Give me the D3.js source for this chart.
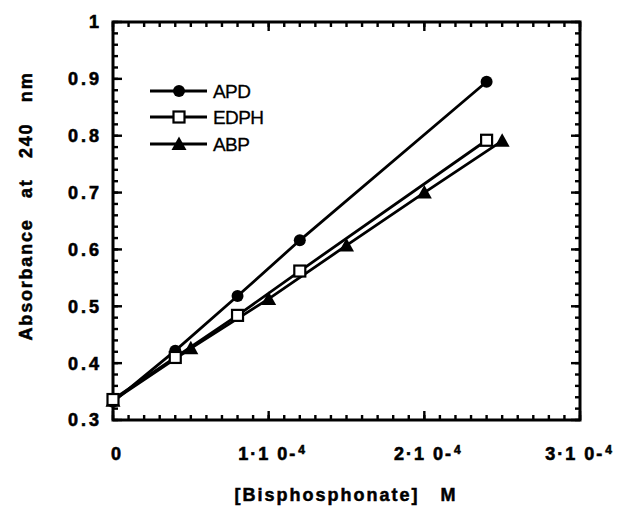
<!DOCTYPE html>
<html><head><meta charset="utf-8">
<script src="https://cdn.jsdelivr.net/npm/d3@7"></script>
<style>
html,body{margin:0;padding:0;background:#fff;}
svg{display:block;font-family:"Liberation Sans",Arial,sans-serif;}
</style></head>
<body><svg id="c" width="618" height="506"></svg>
<script>
// ---- data ----
const seriesNames = ["APD", "EDPH", "ABP"];
const xAPD = [0, 4e-5, 8e-5, 1.2e-4, 2.4e-4];
const yAPD = [0.332, 0.422, 0.518, 0.616, 0.895];
const xEDPH = [0, 4e-5, 8e-5, 1.2e-4, 2.4e-4];
const yEDPH = [0.336, 0.410, 0.484, 0.562, 0.792];
const xABP = [0, 5e-5, 1e-4, 1.5e-4, 2e-4, 2.5e-4];
const yABP = [0.334, 0.426, 0.513, 0.607, 0.700, 0.791];
const xMajorTicks = [0, 1e-4, 2e-4, 3e-4];
const xTickMantissa = ["0", "1", "2", "3"];
const yMajorTicks = [0.3, 0.4, 0.5, 0.6, 0.7, 0.8, 0.9, 1.0];
const yTickLabels = ["0.3", "0.4", "0.5", "0.6", "0.7", "0.8", "0.9", "1"];
const xTitle = "[Bisphosphonate]   M";
const yTitle = "Absorbance   at   240   nm";

// ---- layout ----
const L = 113, R = 580, T = 22, B = 420;
const svg = d3.select("#c");
const xs = d3.scaleLinear().domain([0, 3e-4]).range([L, R]);
const ys = d3.scaleLinear().domain([0.3, 1.0]).range([B, T]);

const xMinor = d3.range(0, 31).map(i => i * 1e-5);
const yMinor = d3.range(0, 36).map(i => 0.3 + i * 0.02);

// inward ticks on all four sides, drawn as small filled rects placed by the scales
const tw = 2.4;
function drawTicks(xv, yv, len) {
  const g = svg.append("g").attr("fill", "#000");
  g.append("g").selectAll("rect").data(xv).join("rect")
    .attr("x", d => xs(d) - tw / 2).attr("y", B - len).attr("width", tw).attr("height", len);
  g.append("g").selectAll("rect").data(xv).join("rect")
    .attr("x", d => xs(d) - tw / 2).attr("y", T).attr("width", tw).attr("height", len);
  g.append("g").selectAll("rect").data(yv).join("rect")
    .attr("x", L).attr("y", d => ys(d) - tw / 2).attr("width", len).attr("height", tw);
  g.append("g").selectAll("rect").data(yv).join("rect")
    .attr("x", R - len).attr("y", d => ys(d) - tw / 2).attr("width", len).attr("height", tw);
}
drawTicks(xMinor, yMinor, 5);
drawTicks(xMajorTicks, yMajorTicks, 9);

// frame
svg.append("rect").attr("x", L).attr("y", T).attr("width", R - L).attr("height", B - T)
  .attr("fill", "none").attr("stroke", "#000").attr("stroke-width", 3);

// y tick labels
svg.append("g").selectAll("text").data(yMajorTicks).join("text")
  .attr("x", 102).attr("y", d => ys(d)).attr("dy", "0.36em")
  .attr("text-anchor", "end").attr("font-size", 18).attr("font-weight", "bold")
  .attr("letter-spacing", 3).attr("stroke", "#000").attr("stroke-width", 0.6)
  .text((d, i) => yTickLabels[i]);

// x tick labels
const xl = svg.append("g").selectAll("text").data(xMajorTicks).join("text")
  .attr("x", d => xs(d) + 4).attr("y", 460).attr("text-anchor", "middle")
  .attr("font-size", 18).attr("font-weight", "bold").attr("letter-spacing", 2)
  .attr("stroke", "#000").attr("stroke-width", 0.6);
xl.each(function(d, i) {
  const t = d3.select(this);
  if (d === 0) { t.append("tspan").text(xTickMantissa[i]); return; }
  t.append("tspan").text(xTickMantissa[i] + "·1 0-");
  t.append("tspan").attr("font-size", 12).attr("dy", -6).attr("dx", 1).text("4");
});
xl.each(function() {
  const bb = this.getBBox();
  const over = bb.x + bb.width - 614;
  if (over > 0) d3.select(this).attr("x", +d3.select(this).attr("x") - over);
});

// axis titles
svg.append("text").attr("x", 346).attr("y", 501).attr("text-anchor", "middle")
  .attr("font-size", 18).attr("font-weight", "bold").attr("letter-spacing", 2)
  .attr("stroke", "#000").attr("stroke-width", 0.5)
  .style("white-space", "pre").text(xTitle);
svg.append("text").attr("transform", "translate(32,206) rotate(-90)")
  .attr("text-anchor", "middle").attr("font-size", 18).attr("font-weight", "bold")
  .attr("letter-spacing", 1.8).attr("stroke", "#000").attr("stroke-width", 0.5)
  .style("white-space", "pre").text(yTitle);

// series
const series = [
  {name: seriesNames[0], xv: xAPD, yv: yAPD, sym: "circle"},
  {name: seriesNames[1], xv: xEDPH, yv: yEDPH, sym: "square"},
  {name: seriesNames[2], xv: xABP, yv: yABP, sym: "triangle"}
];
const lineGen = d3.line().x(d => xs(d[0])).y(d => ys(d[1]));

function marker(g, sym, cx, cy) {
  if (sym === "circle") {
    g.append("circle").attr("cx", cx).attr("cy", cy).attr("r", 6).attr("fill", "#000");
  } else if (sym === "square") {
    g.append("rect").attr("x", cx - 5.5).attr("y", cy - 5.5).attr("width", 11).attr("height", 11)
      .attr("fill", "#fff").attr("stroke", "#000").attr("stroke-width", 2.2);
  } else {
    g.append("path").attr("d", `M${cx},${cy - 7.5}L${cx + 7.5},${cy + 6}L${cx - 7.5},${cy + 6}Z`)
      .attr("fill", "#000");
  }
}
[2, 0, 1].forEach(k => {
  const s = series[k];
  const pts = s.xv.map((v, i) => [v, s.yv[i]]);
  svg.append("path").attr("d", lineGen(pts)).attr("fill", "none")
    .attr("stroke", "#000").attr("stroke-width", 2.8);
});
[2, 0, 1].forEach(k => {
  const s = series[k];
  const g = svg.append("g");
  s.xv.forEach((v, i) => marker(g, s.sym, xs(v), ys(s.yv[i])));
});

// legend
const legY = [91, 117, 144];
series.forEach((s, i) => {
  const g = svg.append("g");
  g.append("line").attr("x1", 150).attr("x2", 207).attr("y1", legY[i]).attr("y2", legY[i])
    .attr("stroke", "#000").attr("stroke-width", 2.8);
  marker(g, s.sym, 179, legY[i]);
  g.append("text").attr("x", 213).attr("y", legY[i]).attr("dy", "0.36em")
    .attr("font-size", 19).attr("letter-spacing", -0.6)
    .attr("stroke", "#000").attr("stroke-width", 0.3).text(s.name);
});
</script></body></html>
